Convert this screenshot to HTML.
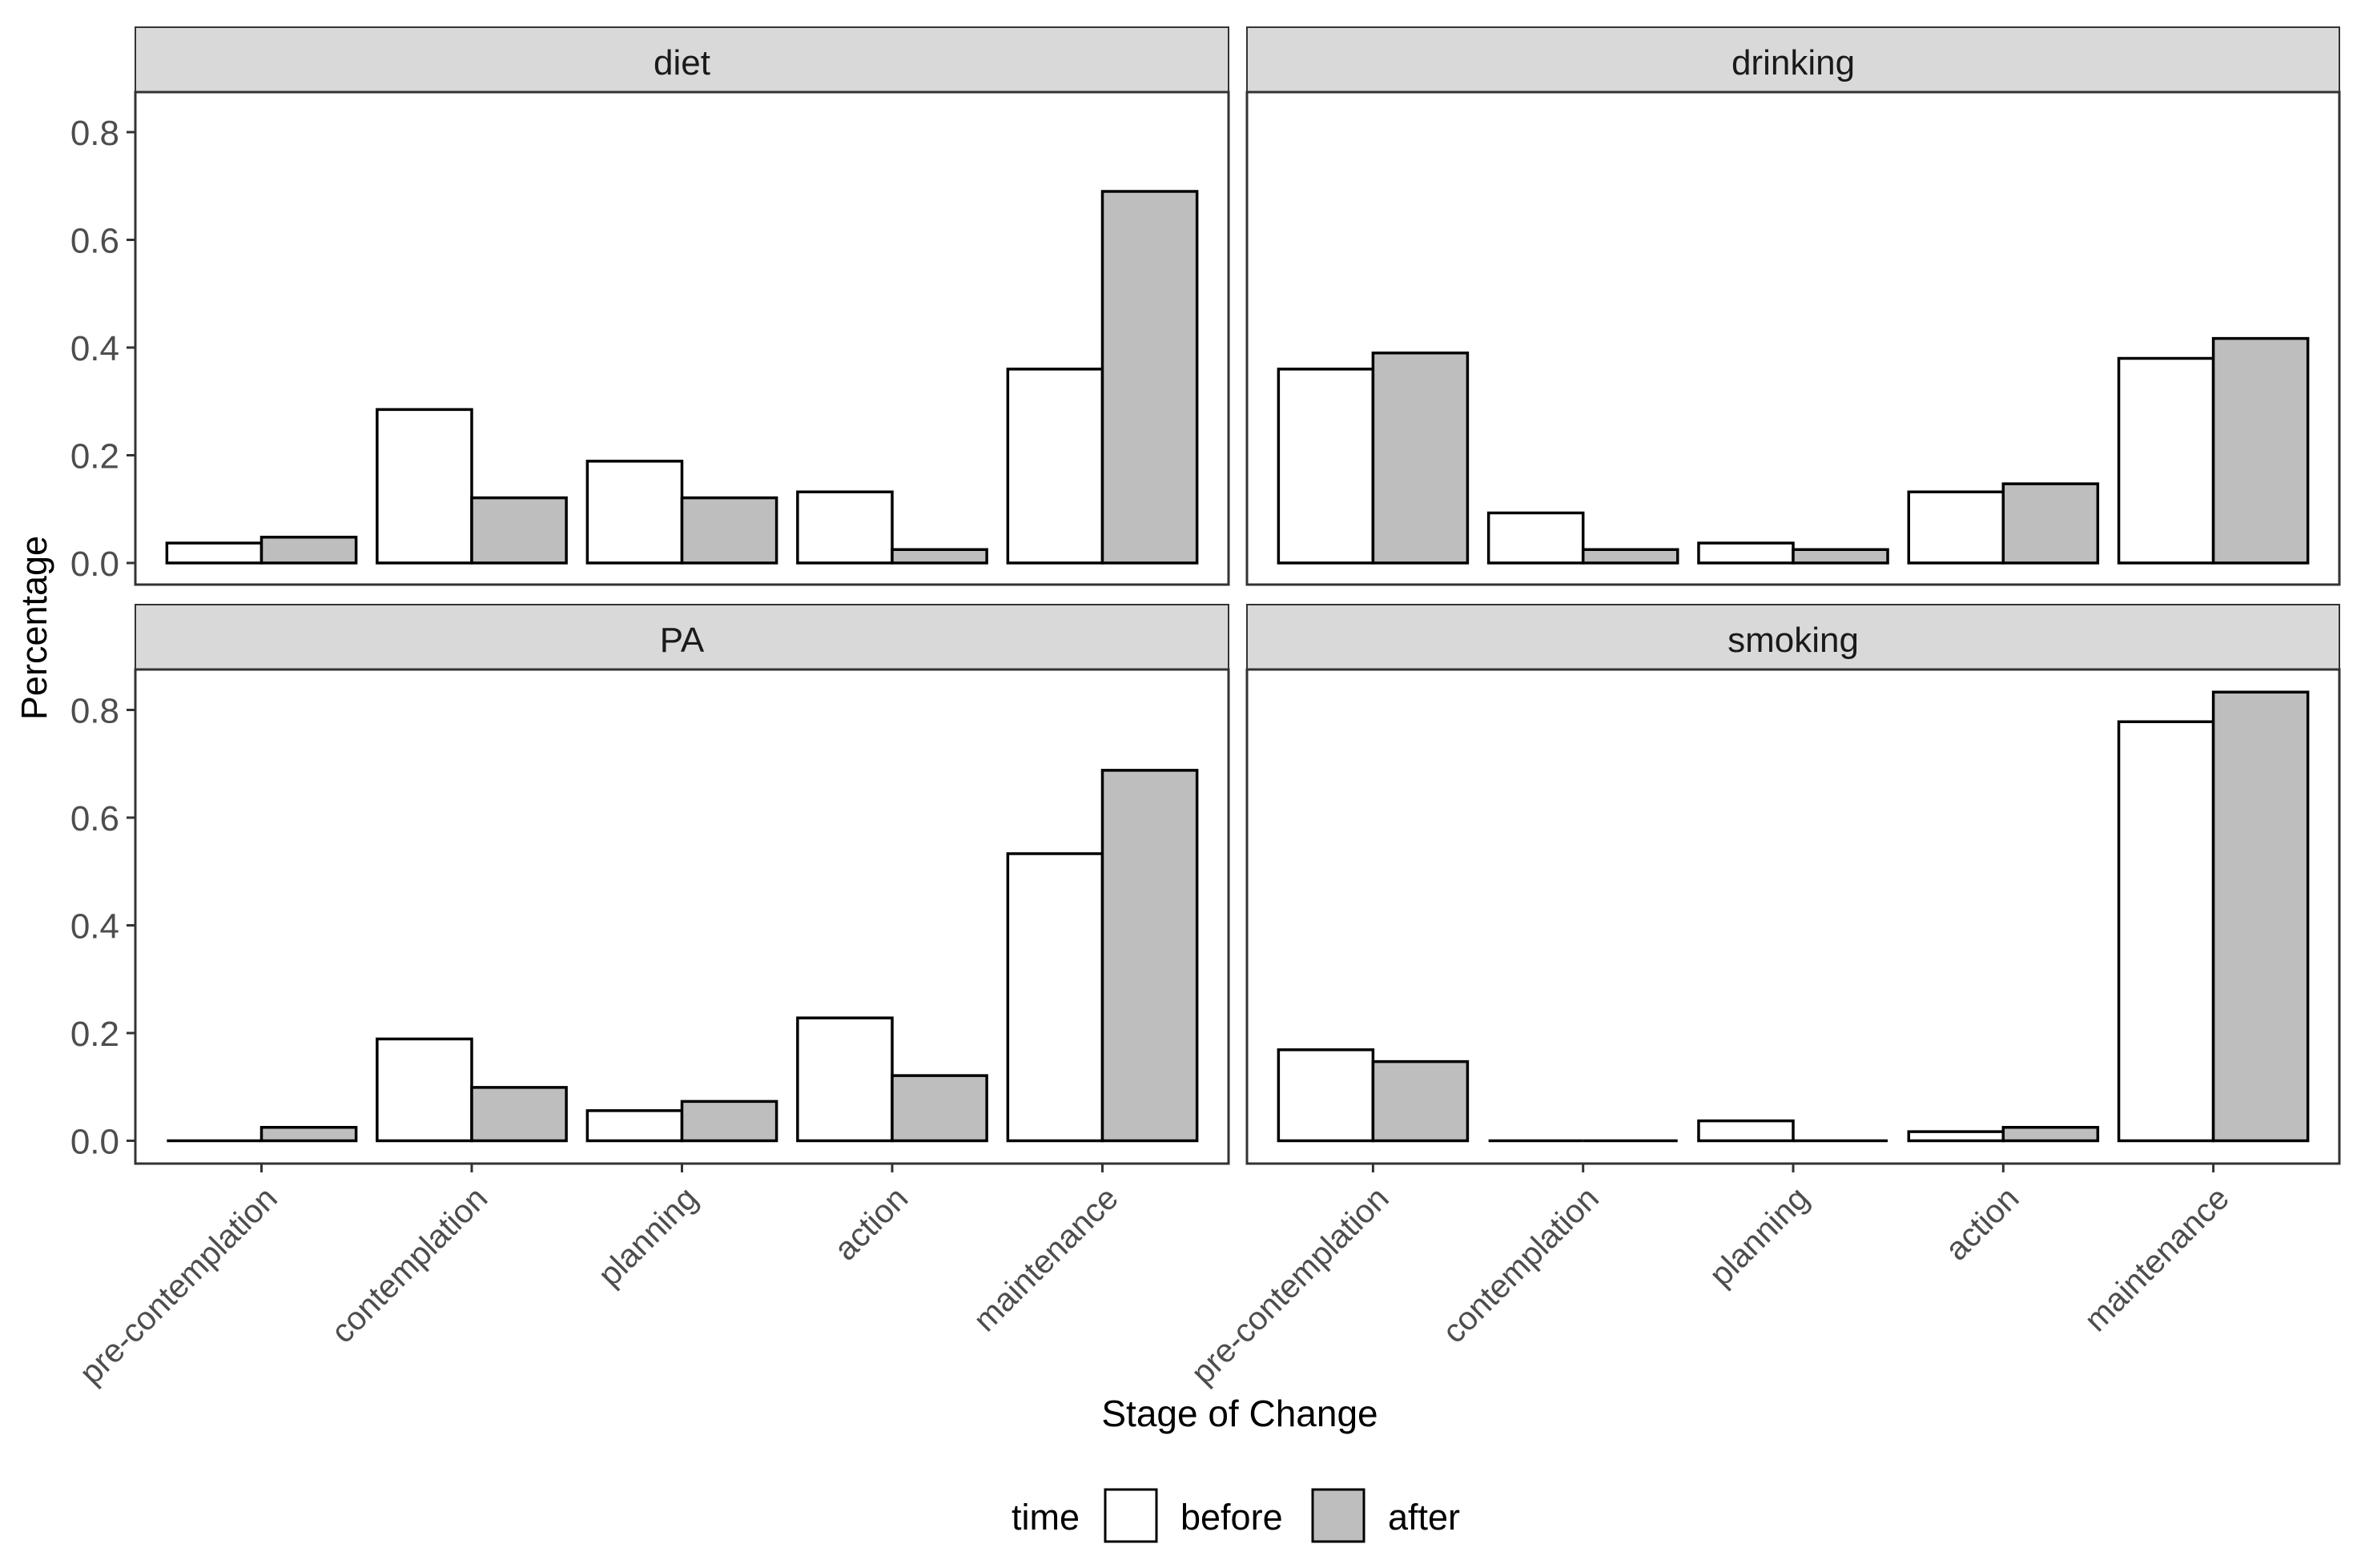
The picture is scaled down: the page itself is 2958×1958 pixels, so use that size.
<!DOCTYPE html>
<html><head><meta charset="utf-8"><style>
html,body{margin:0;padding:0;background:#fff;}
svg{display:block;font-family:"Liberation Sans",Arial,sans-serif;}
</style></head><body>
<svg id="chart" width="2958" height="1958" viewBox="0 0 2958 1958" xmlns="http://www.w3.org/2000/svg">
<text x="0" y="0" transform="translate(58,784) rotate(-90)" text-anchor="middle" font-size="45" fill="#000">Percentage</text>
<text x="1548" y="1781" text-anchor="middle" font-size="46" fill="#000">Stage of Change</text>
<g>
<text x="1263" y="1910" font-size="45" fill="#000">time</text>
<rect x="1380" y="1860" width="64" height="65" fill="#fff" stroke="#000" stroke-width="3"/>
<text x="1474" y="1910" font-size="45" fill="#000">before</text>
<rect x="1639" y="1860" width="64" height="65" fill="#bebebe" stroke="#000" stroke-width="3"/>
<text x="1733" y="1910" font-size="45" fill="#000">after</text>
</g>
</svg>
<script>
const categories = ["pre-contemplation","contemplation","planning","action","maintenance"];
const facets = ["diet","drinking","PA","smoking"];
const yTicks = [0.0,0.2,0.4,0.6,0.8];
const yTickLabels = ["0.0","0.2","0.4","0.6","0.8"];
const dietBefore = [0.037,0.285,0.189,0.132,0.360];
const dietAfter = [0.048,0.121,0.121,0.025,0.690];
const drinkingBefore = [0.360,0.093,0.037,0.132,0.380];
const drinkingAfter = [0.390,0.025,0.025,0.147,0.417];
const paBefore = [0.0,0.189,0.056,0.228,0.533];
const paAfter = [0.025,0.099,0.073,0.121,0.688];
const smokingBefore = [0.169,0.0,0.037,0.017,0.778];
const smokingAfter = [0.147,0.0,0.0,0.025,0.833];

const seriesBefore = [dietBefore, drinkingBefore, paBefore, smokingBefore];
const seriesAfter = [dietAfter, drinkingAfter, paAfter, smokingAfter];

const NS = "http://www.w3.org/2000/svg";
const svg = document.getElementById("chart");
function mk(tag, attrs, parent){
  const e = document.createElementNS(NS, tag);
  for (const k in attrs) e.setAttribute(k, attrs[k]);
  (parent || svg).appendChild(e);
  return e;
}
const cols = [{x0:169,x1:1534},{x0:1557,x1:2921}];
const rows = [{stripTop:34,top:115,bottom:730,zero:703},{stripTop:755,top:836,bottom:1453,zero:1424.5}];
const pxPerUnit = 672.5;

facets.forEach((f, i) => {
  const c = cols[i % 2], r = rows[Math.floor(i / 2)];
  const g = mk("g", {});
  
  
  const w = c.x1 - c.x0;
  const unit = w / 5.2;
  const xScale = k => c.x0 + (0.6 + k) * unit;
  const yScale = v => r.zero - v * pxPerUnit;
  const strip = mk("rect", {x:c.x0, y:r.stripTop, width:w, height:r.top - r.stripTop, fill:"#d9d9d9", stroke:"#333", "stroke-width":2}, g);
  
  
  const st = mk("text", {x:(c.x0 + c.x1) / 2, y:r.stripTop + 59, "text-anchor":"middle", "font-size":44, fill:"#1a1a1a"}, g);
  st.textContent = f;
  
  
  const bw = unit * 0.45;
  categories.forEach((cat, k) => {
    const cx = xScale(k);
    [[seriesBefore[i][k], "#ffffff", cx - bw, "before"], [seriesAfter[i][k], "#bebebe", cx, "after"]].forEach(([v, fill, bx, s]) => {
      const y = yScale(v);
      const d = "M" + bx + "," + r.zero + "L" + bx + "," + y + "L" + (bx + bw) + "," + y + "L" + (bx + bw) + "," + r.zero + "Z";
      const b = mk("path", {d:d, fill:fill, stroke:"#000", "stroke-width":3.5}, g);
      
      
    });
  });
  const pb = mk("rect", {x:c.x0, y:r.top, width:w, height:r.bottom - r.top, fill:"none", stroke:"#333", "stroke-width":3}, g);
  
  
  if (i % 2 === 0) {
    yTicks.forEach((t, j) => {
      const y = yScale(t);
      mk("line", {x1:c.x0 - 11, x2:c.x0, y1:y, y2:y, stroke:"#333", "stroke-width":3}, g);
      const tl = mk("text", {x:c.x0 - 20, y:y + 16, "text-anchor":"end", "font-size":44, fill:"#4d4d4d"}, g);
      tl.textContent = yTickLabels[j];
      
      
    });
  }
  if (i >= 2) {
    categories.forEach((cat, k) => {
      const cx = xScale(k);
      mk("line", {x1:cx, x2:cx, y1:r.bottom, y2:r.bottom + 11, stroke:"#333", "stroke-width":3}, g);
      const xl = mk("text", {x:0, y:0, transform:"translate(" + (cx + 22) + "," + (r.bottom + 46) + ") rotate(-45)", "text-anchor":"end", "font-size":41, fill:"#4d4d4d"}, g);
      xl.textContent = cat;
      
      
    });
  }
});
</script>
</body></html>
